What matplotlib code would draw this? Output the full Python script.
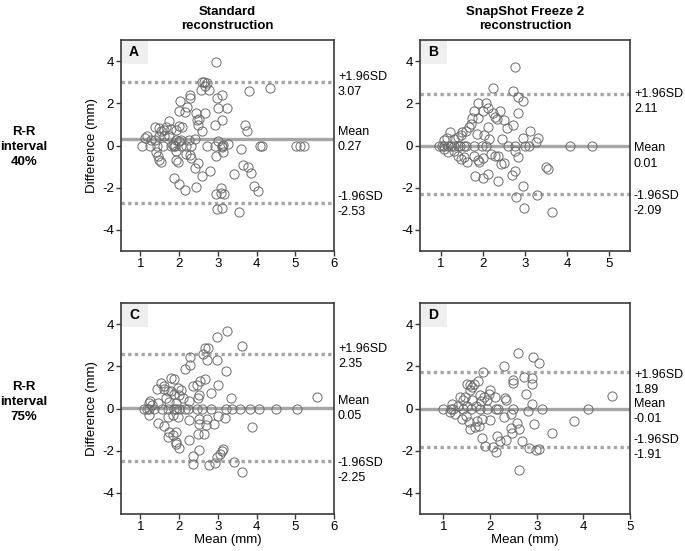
import matplotlib
matplotlib.use("Agg")
import matplotlib.pyplot as plt
from matplotlib.patches import Rectangle
import matplotlib.transforms as mtransforms

plt.rcParams['font.family'] = ['Liberation Sans', 'DejaVu Sans']
plt.rcParams['font.size'] = 9
plt.rcParams['axes.unicode_minus'] = False

# ---- data: Bland-Altman points (mean, difference) ----
a_mean = [2.95, 2.58, 2.65, 2.72, 2.57, 2.67, 2.77, 3.81, 4.35, 2.27, 2.29, 2.03, 2.20,
          2.97, 3.10, 3.01, 3.23, 2.01, 2.14, 2.43, 2.67, 2.52, 2.47, 2.58, 3.12, 2.92,
          2.49, 3.70, 3.76, 1.75, 1.67, 1.49, 1.39, 1.54, 1.61, 1.80, 2.01, 2.08, 1.93,
          1.16, 1.13, 1.28, 1.38, 1.48, 1.62, 1.75, 1.93, 2.00, 2.06, 2.25, 2.40, 3.01,
          3.14, 3.27, 3.10, 3.14, 1.03, 1.25, 1.42, 1.58, 1.80, 1.88, 2.06, 2.19, 2.32,
          2.71, 2.94, 3.10, 4.09, 4.14, 5.03, 5.12, 5.22, 1.85, 1.90, 3.60, 1.41, 1.45,
          1.49, 1.54, 1.93, 1.93, 1.97, 2.17, 2.27, 2.32, 2.49, 2.40, 2.58, 2.81, 2.95,
          3.42, 3.66, 3.79, 3.85, 1.87, 2.01, 2.14, 2.43, 3.94, 4.05, 3.08, 2.95, 3.08,
          3.17, 2.98, 3.12, 3.55]
a_diff = [3.95, 3.00, 3.00, 2.95, 2.65, 2.80, 2.65, 2.60, 2.72, 2.41, 2.25, 2.13, 1.83,
          2.25, 2.38, 1.78, 1.78, 1.65, 1.59, 1.54, 1.54, 1.25, 1.22, 0.70, 1.22, 0.98,
          0.98, 0.98, 0.67, 1.14, 0.90, 0.83, 0.90, 0.71, 0.75, 0.78, 0.94, 0.87, 0.75,
          0.46, 0.35, 0.27, 0.27, 0.43, 0.46, 0.43, 0.27, 0.19, 0.27, 0.27, 0.30, 0.19,
          0.03, 0.08, -0.05, -0.33, 0.00, 0.00, 0.00, 0.00, 0.00, 0.00, 0.00, 0.00, 0.00,
          0.00, 0.00, 0.00, 0.00, 0.00, 0.00, 0.00, 0.00, 0.03, -0.03, -0.17, -0.29, -0.52,
          -0.71, -0.76, -0.24, -0.71, -0.76, -0.40, -0.44, -0.60, -0.81, -1.08, -1.43, -1.19, -0.49,
          -1.35, -0.92, -1.00, -1.32, -1.52, -1.84, -2.11, -1.98, -1.90, -2.16, -2.03, -2.32, -2.27,
          -2.30, -3.02, -2.94, -3.16]

b_mean = [2.75, 2.24, 2.72, 2.83, 2.95, 1.89, 2.07, 2.11, 1.79, 2.00, 2.23, 2.40, 2.83,
          2.28, 2.34, 2.50, 1.74, 1.87, 1.71, 1.66, 1.59, 1.51, 1.47, 1.40, 1.32, 1.22,
          1.14, 1.06, 2.11, 2.03, 2.15, 1.85, 2.57, 2.72, 2.46, 3.13, 3.31, 2.96, 3.25,
          0.96, 1.02, 1.08, 1.16, 1.24, 1.32, 1.40, 1.46, 1.54, 1.59, 1.79, 1.97, 2.07,
          2.60, 2.76, 2.99, 3.09, 4.08, 4.60, 1.08, 1.16, 1.32, 1.40, 1.47, 1.55, 1.63,
          1.79, 1.87, 1.91, 1.99, 2.19, 2.28, 2.36, 2.42, 2.50, 2.76, 2.83, 3.49, 3.55,
          1.81, 1.99, 2.11, 2.36, 2.68, 2.76, 2.95, 2.78, 3.28, 2.98, 3.65]
b_diff = [3.70, 2.73, 2.59, 2.30, 2.11, 2.02, 2.02, 1.79, 1.62, 1.62, 1.54, 1.62, 1.54,
          1.35, 1.27, 1.22, 1.32, 1.32, 1.03, 0.87, 0.71, 0.63, 0.48, 0.40, 0.32, 0.63,
          0.37, 0.24, 0.87, 0.52, 0.32, 0.56, 0.84, 0.95, 0.32, 0.71, 0.37, 0.37, 0.16,
          0.00, 0.00, 0.00, 0.00, 0.00, 0.00, 0.00, 0.00, 0.00, 0.00, 0.00, 0.00, 0.00,
          0.00, 0.00, 0.00, 0.00, 0.00, 0.00, -0.16, -0.32, -0.24, -0.48, -0.63, -0.56, -0.79,
          -0.52, -0.68, -0.79, -0.59, -0.40, -0.48, -0.52, -0.90, -0.83, -0.24, -0.56, -1.03, -1.11,
          -1.43, -1.56, -1.35, -1.67, -1.38, -1.19, -1.90, -2.46, -2.35, -2.97, -3.13]

c_mean = [3.23, 2.99, 3.63, 2.68, 2.75, 2.62, 2.71, 2.99, 2.29, 2.29, 2.14, 3.20, 1.80,
          1.86, 2.36, 2.45, 2.53, 2.66, 3.01, 1.54, 1.60, 1.43, 1.62, 1.71, 1.78, 1.97,
          2.06, 1.88, 2.01, 2.10, 2.26, 2.52, 2.49, 2.82, 3.33, 5.57, 1.26, 1.22, 1.30,
          1.45, 1.67, 1.75, 1.93, 1.10, 1.16, 1.22, 1.36, 1.56, 1.71, 1.86, 1.91, 2.01,
          2.14, 2.23, 2.45, 2.58, 2.82, 3.21, 3.37, 3.56, 3.83, 4.07, 4.51, 5.05, 1.23,
          1.45, 1.62, 1.71, 1.84, 1.97, 2.26, 2.52, 2.52, 2.73, 2.69, 2.89, 3.01, 3.18,
          3.88, 1.75, 1.84, 1.93, 1.71, 1.91, 1.91, 2.01, 2.25, 2.49, 2.64, 2.52, 2.36,
          2.36, 2.78, 2.92, 2.97, 3.05, 3.12, 3.14, 3.42, 3.62]
c_diff = [3.68, 3.39, 2.96, 2.88, 2.88, 2.56, 2.29, 2.32, 2.43, 2.05, 1.89, 1.79, 1.44,
          1.41, 1.09, 1.12, 1.28, 1.41, 1.12, 1.20, 1.09, 0.93, 0.93, 0.83, 0.83, 0.99,
          0.88, 0.69, 0.64, 0.48, 0.35, 0.64, 0.51, 0.72, 0.48, 0.56, 0.35, 0.24, 0.16,
          0.24, 0.48, 0.32, 0.24, 0.00, 0.00, 0.00, 0.00, 0.00, 0.00, 0.00, 0.00, 0.00,
          0.00, 0.00, 0.00, 0.00, 0.00, 0.00, 0.00, 0.00, 0.00, 0.00, 0.00, 0.00, -0.32,
          -0.67, -0.83, -0.40, -0.29, -0.40, -0.56, -0.48, -0.72, -0.48, -0.77, -0.72, -0.35, -0.45,
          -0.88, -1.12, -1.25, -1.12, -1.36, -1.57, -1.68, -1.89, -1.47, -1.20, -1.20, -1.95, -2.24,
          -2.64, -2.67, -2.56, -2.32, -2.16, -2.00, -1.92, -2.53, -3.01]

d_mean = [2.59, 2.92, 3.04, 2.31, 1.85, 2.49, 2.49, 2.72, 2.90, 2.90, 4.61, 2.77, 1.51,
          1.57, 1.62, 1.58, 1.65, 1.74, 1.36, 1.43, 1.46, 1.62, 1.78, 1.88, 1.99, 1.98,
          2.10, 1.94, 1.80, 2.33, 2.35, 2.90, 1.19, 1.31, 1.51, 1.69, 1.00, 1.16, 1.21,
          1.43, 1.60, 1.78, 1.93, 2.12, 2.17, 2.49, 3.11, 4.10, 1.14, 1.26, 1.41, 1.48,
          1.55, 1.58, 1.67, 1.73, 1.76, 1.83, 2.01, 2.30, 2.46, 2.81, 2.57, 2.44, 2.62,
          2.47, 2.94, 3.80, 3.33, 1.83, 1.90, 2.07, 2.12, 2.15, 2.22, 2.35, 2.69, 2.83,
          2.99, 3.04, 2.63]
d_diff = [2.62, 2.46, 2.14, 2.02, 1.74, 1.34, 1.22, 1.50, 1.46, 1.18, 0.59, 0.70, 1.18,
          1.10, 1.02, 0.90, 1.18, 1.30, 0.54, 0.42, 0.54, 0.38, 0.62, 0.54, 0.90, 0.70,
          0.54, 0.38, 0.35, 0.51, 0.38, 0.19, 0.22, 0.14, 0.10, 0.10, 0.00, 0.00, 0.00,
          0.00, 0.00, 0.00, 0.00, 0.00, 0.00, 0.00, 0.00, 0.00, -0.18, -0.26, -0.50, -0.34,
          -0.66, -0.98, -0.90, -0.61, -0.82, -0.50, -0.54, -0.42, -0.26, -0.13, -0.70, -0.93, -0.98,
          -1.14, -0.74, -0.61, -1.14, -1.42, -1.78, -1.82, -2.05, -1.30, -1.54, -1.50, -1.54, -1.86,
          -1.98, -1.90, -2.90]

# mean line, upper and lower limits of agreement as drawn
a_lines = [0.29, 3.03, -2.73]
b_lines = [0.00, 2.46, -2.30]
c_lines = [0.03, 2.56, -2.50]
d_lines = [-0.02, 1.74, -1.84]

# printed labels (mean, upper, lower)
a_labels = ["0.27", "3.07", "-2.53"]
b_labels = ["0.01", "2.11", "-2.09"]
c_labels = ["0.05", "2.35", "-2.25"]
d_labels = ["-0.01", "1.89", "-1.91"]

xticks_std = [1, 2, 3, 4, 5, 6]
xticks_snap = [1, 2, 3, 4, 5]
yticks = [-4, -2, 0, 2, 4]

col_titles = ["Standard\nreconstruction", "SnapShot Freeze 2\nreconstruction"]
row_titles = ["R-R\ninterval\n40%", "R-R\ninterval\n75%"]

# ---- figure ----
fig = plt.figure(figsize=(6.85, 5.51), dpi=100)

spine_col = '#3a3a3a'
line_col = '#a6a6a6'
W, H = 685.0, 551.0

panels = [
    # letter, x, y, lines, labels, xlim, xticks, box (l, r, t, b px), text y (mean, up, low)
    ("A", a_mean, a_diff, a_lines, a_labels, (0.5, 6), xticks_std, (121, 334, 40, 251), (0.29, 2.9, -2.8)),
    ("B", b_mean, b_diff, b_lines, b_labels, (0.5, 5.5), xticks_snap, (420, 630, 40, 251), (-0.5, 2.1, -2.75)),
    ("C", c_mean, c_diff, c_lines, c_labels, (0.5, 6), xticks_std, (121, 334, 303, 514), (0.0, 2.45, -2.95)),
    ("D", d_mean, d_diff, d_lines, d_labels, (0.5, 5), xticks_snap, (420, 630, 303, 514), (-0.14, 1.24, -1.86)),
]

for i, (letter, xs, ys, lines, labels, xlim, xt, box, ty) in enumerate(panels):
    l, r, t, b = box
    ax = fig.add_axes([l / W, 1 - b / H, (r - l) / W, (b - t) / H])
    ax.set_xlim(*xlim)
    ax.set_ylim(-5, 5)

    ax.axhline(lines[0], color=line_col, lw=2.4, zorder=1)
    ax.axhline(lines[1], color=line_col, lw=2.4, ls=(0, (1, 1)), zorder=1)
    ax.axhline(lines[2], color=line_col, lw=2.4, ls=(0, (1, 1)), zorder=1)

    ax.plot(xs, ys, 'o', ms=6.6, mfc='none', mec='#6a6a6a', mew=0.7, zorder=2)

    for sp in ax.spines.values():
        sp.set_color(spine_col)
        sp.set_linewidth(1.2)
    ax.set_xticks(xt)
    ax.set_yticks(yticks)
    ax.tick_params(length=3.5, width=1, color=spine_col, labelsize=9.5, pad=1.5)

    # panel letter box
    ax.add_patch(Rectangle((0, 1 - 24 / (b - t)), 27 / (r - l), 24 / (b - t),
                           transform=ax.transAxes, facecolor='#efefef',
                           edgecolor='none', zorder=0))
    ax.text(13 / (r - l), 1 - 12 / (b - t), letter, transform=ax.transAxes,
            ha='center', va='center', fontsize=10, fontweight='bold')

    # side labels
    trans = mtransforms.blended_transform_factory(ax.transAxes, ax.transData)
    xoff = 1 + 4 / (r - l)
    ax.text(xoff, ty[0], "Mean\n" + labels[0], transform=trans, ha='left', va='center',
            fontsize=9, linespacing=1.35)
    ax.text(xoff, ty[1], "+1.96SD\n" + labels[1], transform=trans, ha='left', va='center',
            fontsize=9, linespacing=1.35)
    ax.text(xoff, ty[2], "-1.96SD\n" + labels[2], transform=trans, ha='left', va='center',
            fontsize=9, linespacing=1.35)

    if i % 2 == 0:
        ax.set_ylabel("Difference (mm)", fontsize=9.5, labelpad=3)
    if i >= 2:
        ax.set_xlabel("Mean (mm)", fontsize=9.5, labelpad=1)

# column titles
fig.text(227.5 / W, 1 - 19 / H, col_titles[0], ha='center', va='center',
         fontsize=9.5, fontweight='bold', linespacing=1.3)
fig.text(525 / W, 1 - 19 / H, col_titles[1], ha='center', va='center',
         fontsize=9.5, fontweight='bold', linespacing=1.3)

# row titles
fig.text(24 / W, 1 - 147 / H, row_titles[0], ha='center', va='center',
         fontsize=9.5, fontweight='bold', linespacing=1.3)
fig.text(24 / W, 1 - 402 / H, row_titles[1], ha='center', va='center',
         fontsize=9.5, fontweight='bold', linespacing=1.3)

fig.savefig("out.png", dpi=100)
